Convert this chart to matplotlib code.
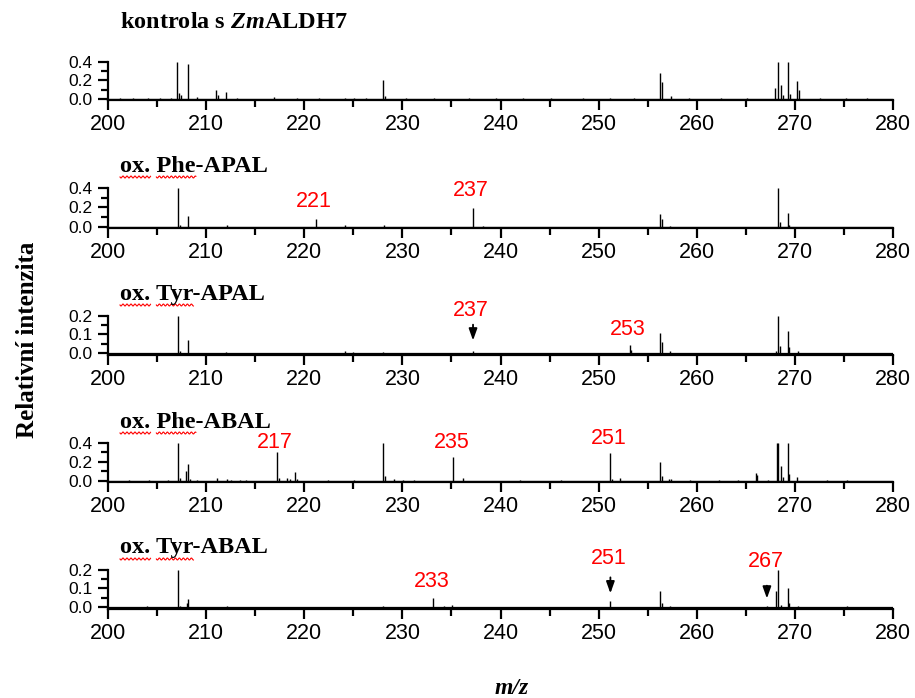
import numpy as np
import matplotlib.pyplot as plt
from matplotlib.ticker import MultipleLocator, FormatStrFormatter

W, H = 915, 698

plt.rcParams['mathtext.fontset'] = 'custom'
plt.rcParams['mathtext.it'] = 'Liberation Serif:italic:bold'
plt.rcParams['mathtext.rm'] = 'Liberation Serif:bold'

# ---- data: m/z positions and relative intensities ----
ctrl_mz = [201.2, 202.5, 204.1, 205.3, 206.4, 207.05, 207.25, 207.45, 208.15, 209.1,
           211.05, 211.2, 212.05, 213.1, 216.9, 219.3, 221.5, 224.2, 225.1, 226.3,
           228.05, 228.25, 230.4, 233.2, 236.8, 239.5, 242.3, 245.1, 248.4, 251.2,
           253.6, 256.3, 256.45, 257.35, 259.2, 262.5, 265.1, 268.0, 268.3, 268.55,
           268.8, 269.25, 269.5, 270.2, 270.4, 272.6, 275.2, 277.4]
ctrl_int = [0.008, 0.006, 0.01, 0.012, 0.01, 0.40, 0.06, 0.04, 0.38, 0.02,
            0.10, 0.04, 0.08, 0.01, 0.025, 0.01, 0.008, 0.01, 0.015, 0.012,
            0.20, 0.03, 0.01, 0.008, 0.01, 0.008, 0.012, 0.008, 0.01, 0.008,
            0.01, 0.28, 0.18, 0.03, 0.01, 0.008, 0.01, 0.12, 0.40, 0.15,
            0.04, 0.40, 0.05, 0.19, 0.10, 0.012, 0.008, 0.01]

phe_apal_mz = [207.15, 207.35, 208.2, 212.1, 221.2, 224.2, 228.1, 237.15, 238.2,
               256.3, 256.45, 257.3, 268.3, 268.45, 269.25, 269.4]
phe_apal_int = [0.40, 0.02, 0.11, 0.02, 0.08, 0.02, 0.02, 0.19, 0.01,
                0.13, 0.08, 0.01, 0.40, 0.05, 0.14, 0.02]

tyr_apal_mz = [207.1, 207.3, 208.2, 212.0, 224.2, 225.0, 228.0, 237.2, 253.2, 253.35,
               256.3, 256.45, 257.3, 268.1, 268.3, 268.5, 269.25, 269.45, 270.3]
tyr_apal_int = [0.20, 0.008, 0.068, 0.005, 0.012, 0.005, 0.005, 0.01, 0.04, 0.015,
                0.108, 0.06, 0.008, 0.01, 0.20, 0.035, 0.12, 0.03, 0.01]

phe_abal_mz = [202.1, 204.2, 206.1, 207.1, 207.3, 207.98, 208.12, 208.4, 209.1, 211.1,
               212.1, 212.5, 213.5, 214.1, 217.19, 217.4, 218.2, 218.5, 219.03, 219.3,
               222.4, 225.1, 228.05, 228.2, 229.1, 230.1, 231.2, 235.13, 236.15, 242.0,
               246.2, 251.2, 251.4, 252.2, 256.3, 256.45, 257.2, 257.4, 259.3, 262.3,
               264.2, 266.0, 266.1, 267.3, 268.16, 268.3, 268.6, 268.8, 269.25, 269.4,
               270.2, 273.3, 275.3]
phe_abal_int = [0.01, 0.008, 0.01, 0.40, 0.03, 0.10, 0.18, 0.02, 0.01, 0.03,
                0.02, 0.01, 0.01, 0.01, 0.30, 0.03, 0.03, 0.02, 0.09, 0.02,
                0.008, 0.01, 0.40, 0.05, 0.02, 0.01, 0.008, 0.256, 0.03, 0.005,
                0.005, 0.29, 0.02, 0.03, 0.20, 0.05, 0.02, 0.02, 0.005, 0.005,
                0.005, 0.08, 0.06, 0.01, 0.40, 0.40, 0.16, 0.04, 0.40, 0.076,
                0.04, 0.01, 0.008]

tyr_abal_mz = [204.0, 207.1, 207.3, 208.05, 208.2, 212.1, 228.0, 233.17, 234.2, 235.1,
               251.2, 256.3, 256.45, 257.3, 267.15, 268.1, 268.33, 268.6, 269.25, 269.4,
               270.3, 275.3]
tyr_abal_int = [0.005, 0.20, 0.006, 0.02, 0.045, 0.003, 0.003, 0.05, 0.005, 0.01,
                0.03, 0.085, 0.02, 0.005, 0.005, 0.085, 0.20, 0.01, 0.10, 0.02,
                0.006, 0.005]

panel_titles = ['kontrola s $\\mathit{Zm}$ALDH7', 'ox. Phe-APAL', 'ox. Tyr-APAL',
                'ox. Phe-ABAL', 'ox. Tyr-ABAL']
panel_mz = [ctrl_mz, phe_apal_mz, tyr_apal_mz, phe_abal_mz, tyr_abal_mz]
panel_int = [ctrl_int, phe_apal_int, tyr_apal_int, phe_abal_int, tyr_abal_int]
panel_ymax = [0.4, 0.4, 0.2, 0.4, 0.2]

# red peak labels (m/z, label height in data units)
peak_labels = [
    [],
    [(221, 0.26), (237, 0.37)],
    [(237, 0.23), (253, 0.125)],
    [(217, 0.40), (235, 0.40), (251, 0.445)],
    [(233, 0.135), (251, 0.265), (267, 0.245)],
]
# arrows pointing at weak peaks (m/z, arrow tail, arrow head)
peak_arrows = [
    [],
    [],
    [(237.2, 0.168, 0.052)],
    [],
    [(251.2, 0.175, 0.058), (267.15, 0.13, 0.03)],
]

# axes boxes in pixels (top, bottom)
boxes = [(62, 100), (188, 228), (316, 355), (443, 482), (570, 609)]
title_y = [23, 166, 294, 422, 548]
ax_left, ax_right = 108, 893

serif = 'Liberation Serif'
sans = 'Liberation Sans'
title_size = 17.5

fig = plt.figure(figsize=(W / 100, H / 100), dpi=100)
renderer = fig.canvas.get_renderer()


def text_width(s):
    t = fig.text(0, 0, s, family=serif, fontweight='bold', fontsize=title_size)
    w = t.get_window_extent(renderer).width
    t.remove()
    return w


def squiggle(x0, x1, y):
    # red spell-check underline, in pixel coords
    xs = np.arange(x0, x1 + 0.5, 0.5)
    ys = y + 1.0 * np.sin((xs - x0) * np.pi / 2)
    fig.add_artist(plt.Line2D(xs / W, 1 - ys / H, color='red', lw=0.8,
                              transform=fig.transFigure))


for i in range(5):
    top, bot = boxes[i]
    ax = fig.add_axes([ax_left / W, 1 - bot / H, (ax_right - ax_left) / W, (bot - top) / H])
    ymax = panel_ymax[i]
    ax.hlines(0, 200, 280, color='black', lw=0.9)
    ax.vlines(panel_mz[i], 0, panel_int[i], color='black', lw=1.0)
    ax.set_xlim(200, 280)
    ax.set_ylim(-0.012 if ymax == 0.2 else -0.011, ymax)

    ax.xaxis.set_major_locator(MultipleLocator(10))
    ax.xaxis.set_minor_locator(MultipleLocator(5))
    ax.yaxis.set_major_locator(MultipleLocator(ymax / 2))
    ax.yaxis.set_minor_locator(MultipleLocator(ymax / 4))
    ax.yaxis.set_major_formatter(FormatStrFormatter('%.1f'))
    ax.tick_params(which='major', direction='out', length=7, width=1.6, pad=3)
    ax.tick_params(which='minor', direction='out', length=5, width=1.6)
    ax.tick_params(axis='x', labelsize=15.5)
    ax.tick_params(axis='y', labelsize=12.5, pad=4)
    for lab in ax.get_xticklabels() + ax.get_yticklabels():
        lab.set_family(sans)
    for s in ['top', 'right']:
        ax.spines[s].set_visible(False)
    for s in ['left', 'bottom']:
        ax.spines[s].set_linewidth(1.6)
    ax.patch.set_alpha(0)

    for mz, y in peak_labels[i]:
        ax.text(mz, y, str(mz), color='red', fontsize=15.5, family=sans,
                ha='center', va='center', clip_on=False)
    for mz, y0, y1 in peak_arrows[i]:
        ax.annotate('', xy=(mz, y1), xytext=(mz, y0),
                    arrowprops=dict(arrowstyle='-|>,head_length=0.7,head_width=0.25',
                                    color='black', lw=1.3), annotation_clip=False)

    fig.text(120 / W, 1 - title_y[i] / H, panel_titles[i], family=serif,
             fontweight='bold', fontsize=title_size, ha='left', va='center')
    if i > 0:
        title = panel_titles[i]
        uy = title_y[i] + 11
        squiggle(120, 120 + text_width('ox.'), uy)
        squiggle(120 + text_width('ox. '), 120 + text_width(title[:7]), uy)

fig.text(28 / W, 1 - 340 / H, 'Relativní intenzita', family=serif, fontweight='bold',
         fontsize=18, rotation=90, ha='center', va='center')
fig.text(512 / W, 1 - 688 / H, 'm/z', family=serif, fontweight='bold', style='italic',
         fontsize=17, ha='center', va='center')

fig.savefig('out.png', dpi=100)
